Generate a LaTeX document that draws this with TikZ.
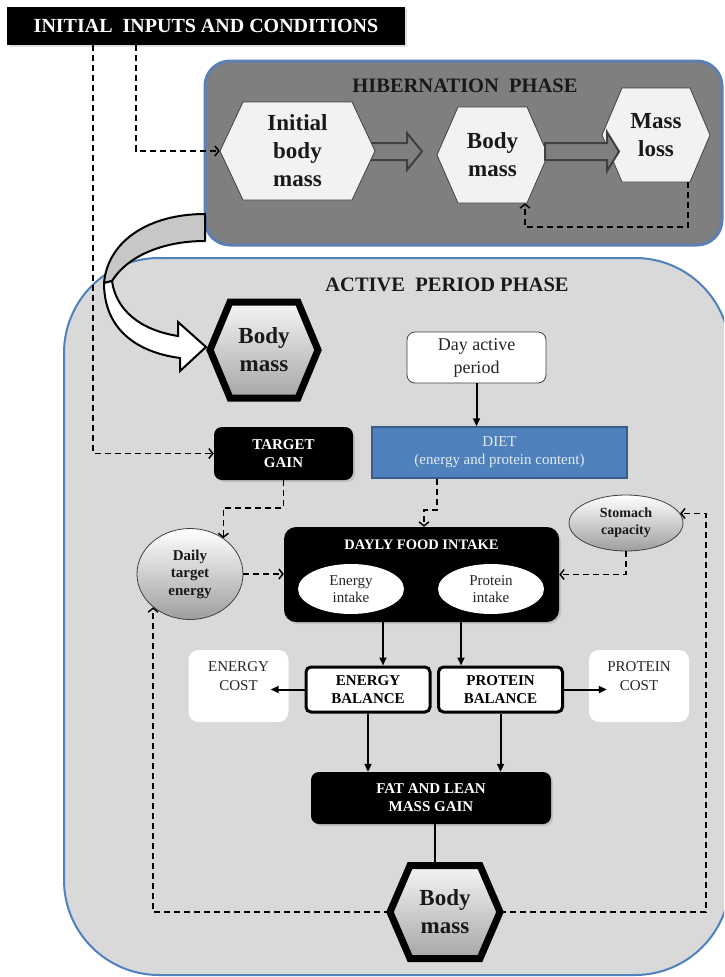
\documentclass[tikz,border=0pt]{standalone}
\usepackage{fontspec}
\setmainfont{Liberation Serif}
\usetikzlibrary{arrows.meta,shapes.geometric,calc,shadows}
\definecolor{hibgray}{HTML}{7F7F7F}
\definecolor{actgray}{HTML}{D9D9D9}
\definecolor{panelblue}{HTML}{4F81BD}
\definecolor{hibblue}{HTML}{5A80B4}
\definecolor{dietblue}{HTML}{4F81BD}
\definecolor{dietedge}{HTML}{385D8A}
\definecolor{diettext}{HTML}{E4EBF5}
\definecolor{hexfill}{HTML}{F2F2F2}
\definecolor{darkline}{HTML}{404040}
\newcommand\myfs[2]{\fontsize{#1}{#2}\selectfont}
\newcommand\hexpath[6]{\path[#6] (#1-#3/2,#2) -- (#1-#3/2+#5,#2-#4/2) -- (#1+#3/2-#5,#2-#4/2) -- (#1+#3/2,#2) -- (#1+#3/2-#5,#2+#4/2) -- (#1-#3/2+#5,#2+#4/2) -- cycle;}
\tikzset{
  dashedarrow/.style={line width=1.5pt, dash pattern=on 6pt off 4pt, -{Straight Barb[length=4pt,width=10pt]}},
  solidarrow/.style={line width=2pt, -{Triangle[length=8pt,width=7pt]}},
  plainline/.style={line width=2pt},
  hexlabel/.style={draw=none, inner sep=0pt, align=center, font=\myfs{23}{28}\bfseries, text=black!90},
  hibhex/.style={fill=hexfill, draw=darkline, line width=0.8pt},
  thickhex/.style={draw=black, line width=7pt, line join=miter, top color=white!96!black, bottom color=black!35},
  blockarrow/.style={fill=hibgray, draw=darkline, line width=2pt, line join=miter},
  blackbox/.style={fill=black, text=white, rounded corners=8pt, align=center, inner sep=0pt, drop shadow={shadow xshift=2pt, shadow yshift=-2pt, opacity=0.25}},
  titletext/.style={font=\myfs{20.5}{24}\bfseries, text=black!90},
  greyellipse/.style={ellipse, draw=darkline, line width=0.8pt, top color=white, bottom color=black!38, align=center, inner sep=0pt, text=black!90},
  whiteellipse/.style={ellipse, fill=white, draw=none, align=center, inner sep=0pt, font=\myfs{15}{17}, text=black!85},
  balbox/.style={fill=white, draw=black, line width=3pt, rounded corners=5pt, align=center, inner sep=0pt, font=\myfs{15}{18}\bfseries},
  costbox/.style={fill=white, draw=none, rounded corners=10pt, align=center, inner sep=0pt, font=\myfs{15}{19}, text=black!85},
}
\begin{document}
\begin{tikzpicture}[x=1pt,y=-1pt]
\useasboundingbox (0,0) rectangle (724,977);
\clip (0,0) rectangle (724,977);
\fill[white] (0,0) rectangle (724,977);

% panels
\draw[hibblue, line width=3pt, fill=hibgray, rounded corners=25pt] (205,61) rectangle (722,245);
\draw[panelblue, line width=2pt, fill=actgray, rounded corners=95pt] (64,258) rectangle (730,975);

% top box
\node[blackbox, rounded corners=0pt, minimum width=398pt, minimum height=38pt, font=\myfs{20}{24}\bfseries] (init) at (206,26) {INITIAL\ \ INPUTS AND CONDITIONS};

% titles
\node[titletext] (hibtitle) at (465,86) {HIBERNATION\ \ PHASE};
\node[titletext] (acttitle) at (447,285) {ACTIVE\ \ PERIOD PHASE};

% hibernation phase
\path[blockarrow] (345,143) -- (407,143) -- (407,133) -- (422,151.5) -- (407,170) -- (407,160) -- (345,160) -- cycle;
\hexpath{297.5}{151}{155}{98}{23}{hibhex}
\node[hexlabel, minimum width=155pt, minimum height=98pt] (ibm) at (297.5,151) {Initial\\body\\mass};
\hexpath{492.5}{155}{111}{96}{21}{hibhex}
\node[hexlabel, minimum width=111pt, minimum height=96pt] (bmh) at (492.5,155) {Body\\mass};
\hexpath{656}{135}{108}{94}{20}{hibhex}
\node[hexlabel, minimum width=108pt, minimum height=94pt] (ml) at (656,135) {Mass\\loss};
\path[blockarrow] (545,143) -- (607,143) -- (607,132) -- (619,151.5) -- (607,171) -- (607,160) -- (545,160) -- cycle;

\coordinate (fba) at (688,227);
\coordinate (fbb) at (525,227);
\draw[dashedarrow] (fba |- ml.south) -- (fba) -- (fbb) -- (fbb |- bmh.south);

% curved transfer arrow
\draw[line width=2pt, fill=black!22, line join=round] (205,214) .. controls (150,214) and (108,240) .. (104,283) -- (112,281) .. controls (126,258) and (160,241) .. (205,241) -- cycle;
\draw[line width=2pt, fill=white, line join=miter] (104,283) .. controls (104,328) and (135,352) .. (180,358) -- (180,371) -- (206,347) -- (178,322) -- (178,336) .. controls (140,330) and (116,310) .. (112,281) -- cycle;

% active phase
\hexpath{264}{350}{108}{96}{20}{thickhex}
\node[hexlabel, minimum width=108pt, minimum height=96pt] (bma) at (264,350) {Body\\mass};

\node[fill=white, draw=darkline, line width=0.8pt, rounded corners=8pt, minimum width=139pt, minimum height=51pt, inner sep=0pt, align=center, font=\myfs{18}{23}, text=black!85] (dap) at (476.5,357.5) {Day active\\period};

\node[fill=dietblue, draw=dietedge, line width=1.5pt, minimum width=255pt, minimum height=51pt, inner sep=0pt, align=center, font=\myfs{15}{18}, text=diettext] (diet) at (499.5,452.5) {DIET\\(energy and protein content)};

\node[blackbox, minimum width=139pt, minimum height=53pt, font=\myfs{15}{18.5}\bfseries] (tg) at (283.5,453.5) {TARGET\\GAIN};

\node[greyellipse, minimum width=114pt, minimum height=56pt, font=\myfs{14}{17}\bfseries] (stom) at (626,523) {Stomach\\capacity};
\node[greyellipse, minimum width=106pt, minimum height=91pt, font=\myfs{15}{17.5}\bfseries] (dte) at (190,574) {Daily\\target\\energy};

\node[blackbox, rounded corners=12pt, minimum width=275pt, minimum height=95pt] (dfi) at (421.5,574.5) {};
\node[text=white, font=\myfs{14.5}{17}\bfseries, inner sep=0pt] (dfititle) at (421.5,545) {DAYLY FOOD INTAKE};
\node[whiteellipse, minimum width=106pt, minimum height=50pt] (ei) at (351,589) {Energy\\intake};
\node[whiteellipse, minimum width=106pt, minimum height=50pt] (pi) at (491,589) {Protein\\intake};

\node[balbox, minimum width=124pt, minimum height=45pt] (eb) at (368,689.5) {ENERGY\\BALANCE};
\node[balbox, minimum width=124pt, minimum height=45pt] (pb) at (500.5,689.5) {PROTEIN\\BALANCE};
\node[costbox, minimum width=100pt, minimum height=72pt] (ec) at (238.5,686) {ENERGY\\COST\\\mbox{}};
\node[costbox, minimum width=100pt, minimum height=72pt] (pc) at (639,686) {PROTEIN\\COST\\\mbox{}};

\node[blackbox, minimum width=240pt, minimum height=52pt, font=\myfs{15}{18}\bfseries] (fat) at (431,798) {FAT AND LEAN\\MASS GAIN};

\draw[plainline] ([xshift=4pt]fat.south) -- ++(0,40);
\hexpath{445}{912}{110}{93}{20}{thickhex}
\node[hexlabel, minimum width=110pt, minimum height=93pt] (bmb) at (445,912) {Body\\mass};

% connectors
\draw[dashedarrow] ([xshift=129pt]init.south west) |- (ibm.west);
\draw[dashedarrow] ([xshift=86pt]init.south west) |- (tg.west);
\draw[solidarrow] (dap.south) -- (dap.south |- diet.north);
\draw[dashedarrow] (tg.south) |- ($(dte.47)+(0,-30)$) -- (dte.47);
\draw[dashedarrow] ([xshift=-62.5pt]diet.south) -- ++(0,31) -| ([xshift=2.5pt]dfi.north);
\draw[dashedarrow] (dte.east) -- (dfi.west |- dte.east);
\draw[dashedarrow] (stom.south) |- (dfi.east);
\draw[solidarrow] ([xshift=15pt]eb.north |- dfi.south) -- ([xshift=15pt]eb.north);
\draw[solidarrow] ([xshift=-39.5pt]pb.north |- dfi.south) -- ([xshift=-39.5pt]pb.north);
\draw[solidarrow] (eb.west) -- ([xshift=-18pt]ec.east |- eb.west);
\draw[solidarrow] (pb.east) -- ([xshift=18pt]pc.west |- pb.east);
\draw[solidarrow] (eb.south) -- (eb.south |- fat.north);
\draw[solidarrow] (pb.south) -- (pb.south |- fat.north);
\coordinate (rx) at (706,0);
\draw[dashedarrow] (bmb.west) -| (dte.222);
\draw[dashedarrow] (bmb.east) -| (rx |- stom.10) -- (stom.10);
\end{tikzpicture}
\end{document}
